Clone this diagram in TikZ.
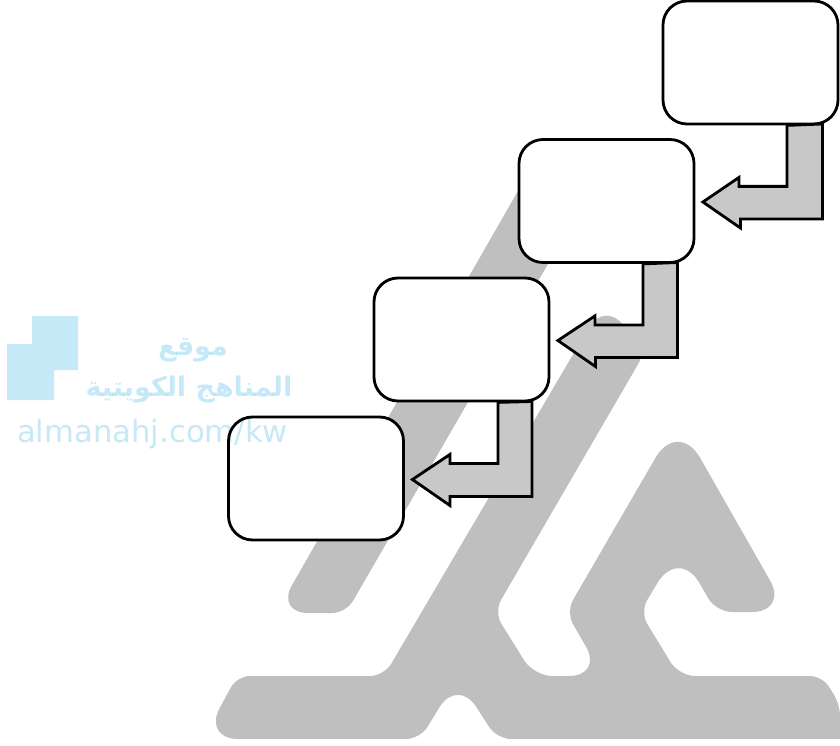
\documentclass[tikz,border=0pt]{standalone}
\usepackage{fontspec}
\usetikzlibrary{calc}
\newfontfamily\arabicfont[Script=Arabic]{DejaVu Sans}
\newfontfamily\latinfont{DejaVu Sans}
\TeXXeTstate=1
\definecolor{logogray}{HTML}{BFBFBF}
\definecolor{arrowgray}{HTML}{C8C8C8}
\definecolor{markblue}{HTML}{C5E9F6}
\begin{document}
\begin{tikzpicture}[x=1pt,y=-1pt,
		stepbox/.style={draw=black,line width=2.8pt,fill=white,rounded corners=24pt,minimum width=175pt,minimum height=123pt,inner sep=0pt},
		bentarrow/.style={draw=black,line width=2.8pt,fill=arrowgray,miter limit=8},
		marktext/.style={text=markblue,inner sep=0pt}]
	\useasboundingbox (0,0) rectangle (840,746);

	\fill[logogray] (558,380)
		[rounded corners=32pt] -- (605,300)
		[rounded corners=10pt] -- (644,354)
		[rounded corners=14pt] -- (494,612)
		[rounded corners=18pt] -- (534,676)
		[rounded corners=34pt] -- (603,676)
		[rounded corners=14pt] -- (566,612)
		[rounded corners=45pt] -- (678,419)
		[rounded corners=36pt] -- (788,612)
		[rounded corners=16pt] -- (716,612)
		[rounded corners=42pt] -- (679,547)
		[rounded corners=14pt] -- (640,612)
		[rounded corners=16pt] -- (679,676)
		[rounded corners=12pt] -- (822,676)
		-- (840,704)
		[sharp corners] -- (840,739)
		[rounded corners=14pt] -- (497,739)
		[rounded corners=34pt] -- (457.5,678)
		[rounded corners=14pt] -- (420,739)
		[rounded corners=35pt] -- (203,739)
		[rounded corners=13pt] -- (237,676)
		[rounded corners=14pt] -- (384,676)
		-- cycle;
	\fill[logogray] (530,170)
		[rounded corners=32pt] -- (276,613)
		[rounded corners=14pt] -- (346,613)
		[sharp corners] -- (585,200)
		-- cycle;

	\node[stepbox] (boxa) at (750.5,62.5) {};
	\node[stepbox] (boxb) at (606.5,201) {};
	\node[stepbox] (boxc) at (461.5,339.5) {};
	\node[stepbox] (boxd) at (316,478.5) {};

	\foreach \from/\to in {boxa/boxb,boxb/boxc,boxc/boxd}
		\draw[bentarrow] ($(\from.south)+(36.5,0)$) -- ++(0,61) -- ++(-48,0) -- ++(0,-9)
			-- ($(\to.east)+(7.5,1)$) -- ++(37.5,26) -- ++(0,-9) -- ++(82,0) -- ++(0,-95) -- cycle;

	\begin{scope}[blend mode=multiply]
		\fill[markblue] (32,316) -- (78,316) -- (78,370) -- (54,370) -- (54,400) -- (7,400) -- (7,344) -- (32,344) -- cycle;
		\node[marktext,font=\arabicfont\bfseries\fontsize{27}{29}\selectfont] (markone) at (193,350) {\beginR موقع\endR};
		\node[marktext,font=\arabicfont\bfseries\fontsize{27}{29}\selectfont] (marktwo) at (189,390) {\beginR المناهج الكويتية\endR};
		\node[marktext,font=\latinfont\fontsize{30.7}{32}\selectfont] (markthree) at (152.5,434) {almanahj.com/kw};
	\end{scope}
\end{tikzpicture}
\end{document}
